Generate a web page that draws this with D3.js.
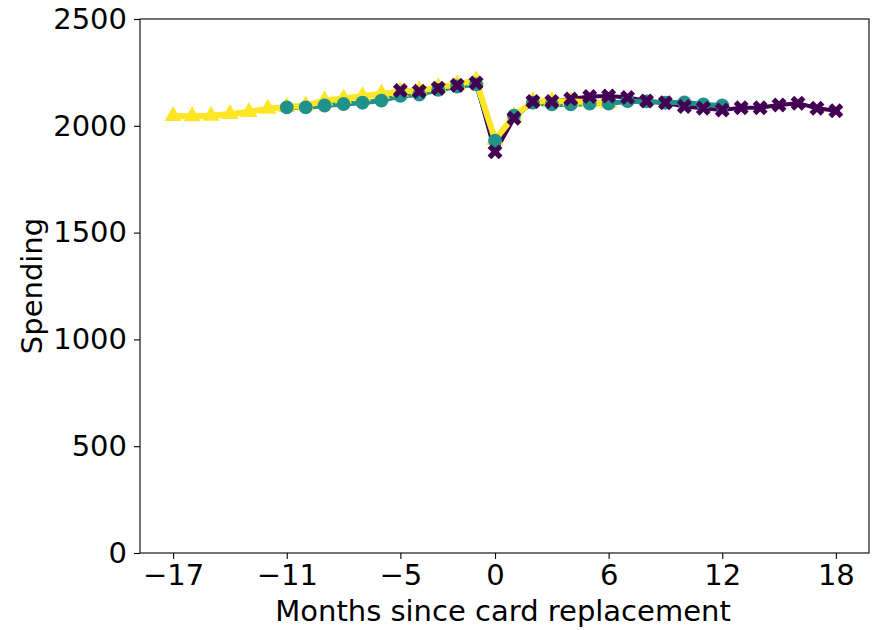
<!DOCTYPE html>
<html>
<head>
<meta charset="utf-8">
<script src="https://cdn.jsdelivr.net/npm/d3@7"></script>
<style>
  body { margin: 0; background: #fff; }
  svg text { font-family: "DejaVu Sans", sans-serif; fill: #000; }
</style>
</head>
<body>
<div id="chart"></div>
<script>
// spending around card replacement, three cohorts
const monthsA = d3.range(-17, 7)   // yellow triangles
const valuesA = [2046, 2045, 2047, 2055, 2065, 2080, 2088, 2095, 2118, 2128, 2138, 2150, 2160, 2165, 2180, 2195, 2212,
                 1935, 2045, 2115, 2115, 2115, 2110, 2105]

const monthsB = d3.range(-11, 13)  // teal circles
const valuesB = [2086, 2086, 2095, 2102, 2108, 2118, 2140, 2146, 2168, 2184, 2194,
                 1930, 2048, 2108, 2100, 2100, 2104, 2104, 2115, 2114, 2108, 2110, 2100, 2095]

const monthsC = d3.range(-5, 19)   // purple crosses
const valuesC = [2165, 2162, 2176, 2190, 2200,
                 1878, 2035, 2114, 2114, 2126, 2137, 2140, 2133, 2116, 2108, 2090, 2082, 2074,
                 2085, 2085, 2097, 2106, 2082, 2070]

const xTicks = [-17, -11, -5, 0, 6, 12, 18]
const yTicks = [0, 500, 1000, 1500, 2000, 2500]

const WD = 877, HT = 630
const margin = { left: 140, right: 8, top: 19, bottom: 77 }
const width = WD - margin.left - margin.right
const height = HT - margin.top - margin.bottom
const FS = "29px"

const svg = d3.select("#chart").append("svg")
    .attr("width", WD)
    .attr("height", HT)

const g = svg.append("g").attr("transform", "translate(" + margin.left + "," + margin.top + ")")

const xs = d3.scaleLinear().domain([-18.75, 19.75]).range([0, width])
const ys = d3.scaleLinear().domain([0, 2500]).range([height, 0])

// axes
const xAxis = g.append("g")
    .attr("transform", "translate(0," + height + ")")
    .call(d3.axisBottom(xs).tickValues(xTicks).tickSize(6).tickPadding(5)
        .tickFormat(d => d < 0 ? "\u2212" + Math.abs(d) : d))
const yAxis = g.append("g")
    .call(d3.axisLeft(ys).tickValues(yTicks).tickSize(6).tickPadding(7).tickFormat(d3.format("d")))

;[xAxis, yAxis].forEach(a => {
  a.select(".domain").remove()
  a.selectAll("line").attr("stroke", "#000").attr("stroke-width", 1.1)
  a.selectAll("text").attr("font-size", FS).attr("fill", "#000")
})

// frame
g.append("rect")
    .attr("width", width).attr("height", height)
    .attr("fill", "none").attr("stroke", "#000").attr("stroke-width", 1.1)

// axis titles
svg.append("text")
    .attr("x", 503)
    .attr("y", 621)
    .attr("text-anchor", "middle")
    .attr("font-size", FS)
    .text("Months since card replacement")

svg.append("text")
    .attr("transform", "translate(42," + (margin.top + height / 2) + ") rotate(-90)")
    .attr("text-anchor", "middle")
    .attr("font-size", FS)
    .text("Spending")

const line = d3.line().x(d => xs(d[0])).y(d => ys(d[1]))

const series = [
  { months: monthsA, values: valuesA, color: "#fde725", marker: d3.symbol().type(d3.symbolTriangle).size(130)(), rot: 0, lw: 6 },
  { months: monthsB, values: valuesB, color: "#21918c", marker: d3.symbol().type(d3.symbolCircle).size(150)(), rot: 0, lw: 5 },
  { months: monthsC, values: valuesC, color: "#440154", marker: d3.symbol().type(d3.symbolCross).size(140)(), rot: 45, lw: 4 }
]
series.forEach(s => { s.pts = s.months.map((m, i) => [m, s.values[i]]) })

// lines first (purple under yellow), then markers on top
const gl = g.append("g")
series.slice().reverse().forEach(s => {
  gl.append("path")
      .attr("d", line(s.pts))
      .attr("fill", "none")
      .attr("stroke", s.color)
      .attr("stroke-width", s.lw)
      .attr("stroke-linejoin", "round")
})

series.forEach(s => {
  g.append("g").selectAll("path")
    .data(s.pts)
    .enter()
    .append("path")
      .attr("transform", d => "translate(" + xs(d[0]) + "," + ys(d[1]) + ") rotate(" + s.rot + ")")
      .attr("d", s.marker)
      .attr("fill", s.color)
})
</script>
</body>
</html>
